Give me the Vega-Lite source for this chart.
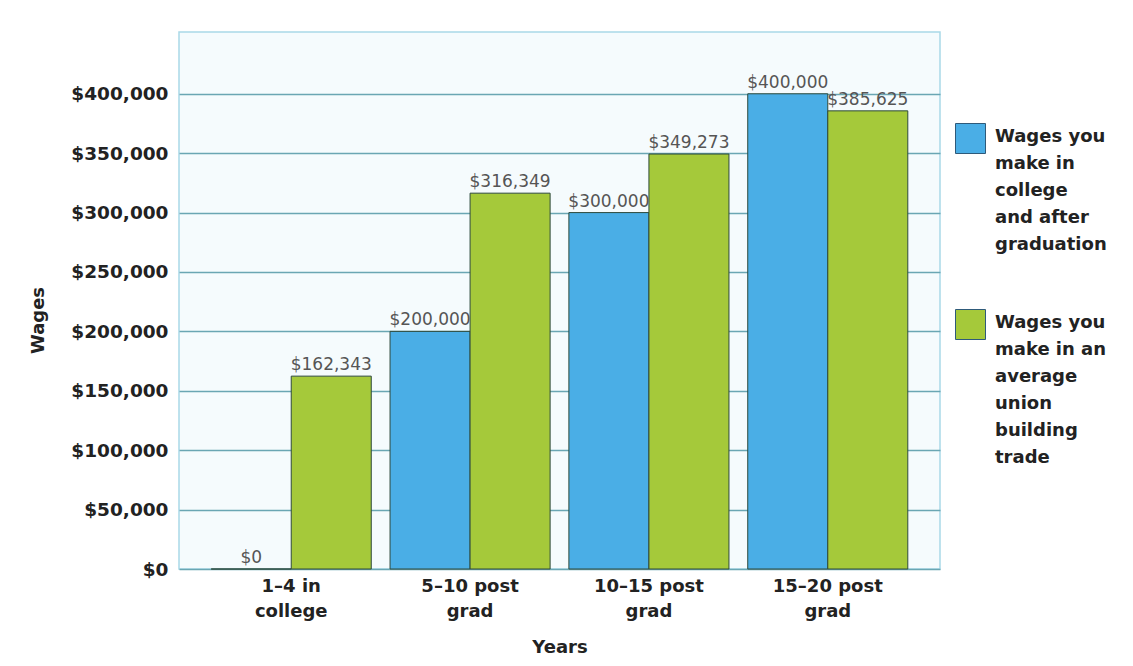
{
  "$schema": "https://vega.github.io/schema/vega-lite/v6.json",
  "width": 761,
  "height": 537,
  "autosize": {"type": "none"},
  "padding": {"left": 179, "top": 32, "right": 193, "bottom": 97},
  "background": "white",
  "config": {
    "font": "DejaVu Sans",
    "view": {"fill": "#f5fbfd", "stroke": "#a9d9e8", "strokeWidth": 1.5}
  },
  "data": {
    "values": [
      {"period": "1–4 in college", "series": "Wages you make in college and after graduation", "wages": 0},
      {"period": "1–4 in college", "series": "Wages you make in an average union building trade", "wages": 162343},
      {"period": "5–10 post grad", "series": "Wages you make in college and after graduation", "wages": 200000},
      {"period": "5–10 post grad", "series": "Wages you make in an average union building trade", "wages": 316349},
      {"period": "10–15 post grad", "series": "Wages you make in college and after graduation", "wages": 300000},
      {"period": "10–15 post grad", "series": "Wages you make in an average union building trade", "wages": 349273},
      {"period": "15–20 post grad", "series": "Wages you make in college and after graduation", "wages": 400000},
      {"period": "15–20 post grad", "series": "Wages you make in an average union building trade", "wages": 385625}
    ]
  },
  "encoding": {
    "x": {
      "field": "period",
      "type": "nominal",
      "sort": ["1–4 in college", "5–10 post grad", "10–15 post grad", "15–20 post grad"],
      "scale": {"paddingInner": 0.105, "paddingOuter": 0.18},
      "axis": {
        "title": "Years",
        "labelAngle": 0,
        "labelExpr": "[slice(datum.label, 0, lastindexof(datum.label, ' ')), slice(datum.label, lastindexof(datum.label, ' ') + 1)]",
        "labelFontSize": 18,
        "labelFontWeight": "bold",
        "labelColor": "#222222",
        "labelLineHeight": 25,
        "labelPadding": 8,
        "labelBaseline": "top",
        "ticks": false,
        "domain": false,
        "titleFontSize": 18,
        "titleFontWeight": "bold",
        "titleColor": "#222222",
        "titleBaseline": "alphabetic",
        "titleY": 83
      }
    },
    "xOffset": {
      "field": "series",
      "type": "nominal",
      "sort": ["Wages you make in college and after graduation", "Wages you make in an average union building trade"],
      "scale": {"paddingInner": 0, "paddingOuter": 0}
    },
    "y": {
      "field": "wages",
      "type": "quantitative",
      "scale": {"domain": [0, 452000], "nice": false},
      "axis": {
        "title": "Wages",
        "values": [0, 50000, 100000, 150000, 200000, 250000, 300000, 350000, 400000],
        "format": "$,.0f",
        "labelFontSize": 18.5,
        "labelFontWeight": "bold",
        "labelColor": "#222222",
        "labelPadding": 11,
        "ticks": false,
        "domain": false,
        "gridColor": "#6aa6b3",
        "gridWidth": 1.6,
        "gridOpacity": 1,
        "titleFontSize": 18,
        "titleFontWeight": "bold",
        "titleColor": "#222222",
        "titleX": -132,
        "titleY": 288
      }
    }
  },
  "layer": [
    {
      "mark": {"type": "bar", "stroke": "#2e4a3c", "strokeWidth": 1},
      "encoding": {
        "color": {
          "field": "series",
          "type": "nominal",
          "sort": ["Wages you make in college and after graduation", "Wages you make in an average union building trade"],
          "scale": {"range": ["#4aaee6", "#a5c93a"]},
          "legend": {
            "title": null,
            "orient": "none",
            "legendX": 776,
            "legendY": 91,
            "symbolType": "square",
            "symbolSize": 900,
            "symbolStrokeColor": "#2e5a7a",
            "symbolStrokeWidth": 1,
            "labelFontSize": 18,
            "labelFontWeight": "bold",
            "labelColor": "#222222",
            "labelBaseline": "top",
            "labelOffset": 9,
            "labelLimit": 300,
            "rowPadding": 53,
            "encoding": {
              "labels": {"lineHeight": {"value": 27}, "dy": {"value": -11}}
            },
            "labelExpr": "datum.label == 'Wages you make in college and after graduation' ? ['Wages you', 'make in', 'college', 'and after', 'graduation'] : ['Wages you', 'make in an', 'average', 'union', 'building', 'trade']"
          }
        }
      }
    },
    {
      "mark": {"type": "text", "baseline": "alphabetic", "dy": -6, "fontSize": 17, "color": "#555555"},
      "encoding": {
        "text": {"field": "wages", "type": "quantitative", "format": "$,.0f"}
      }
    }
  ]
}
